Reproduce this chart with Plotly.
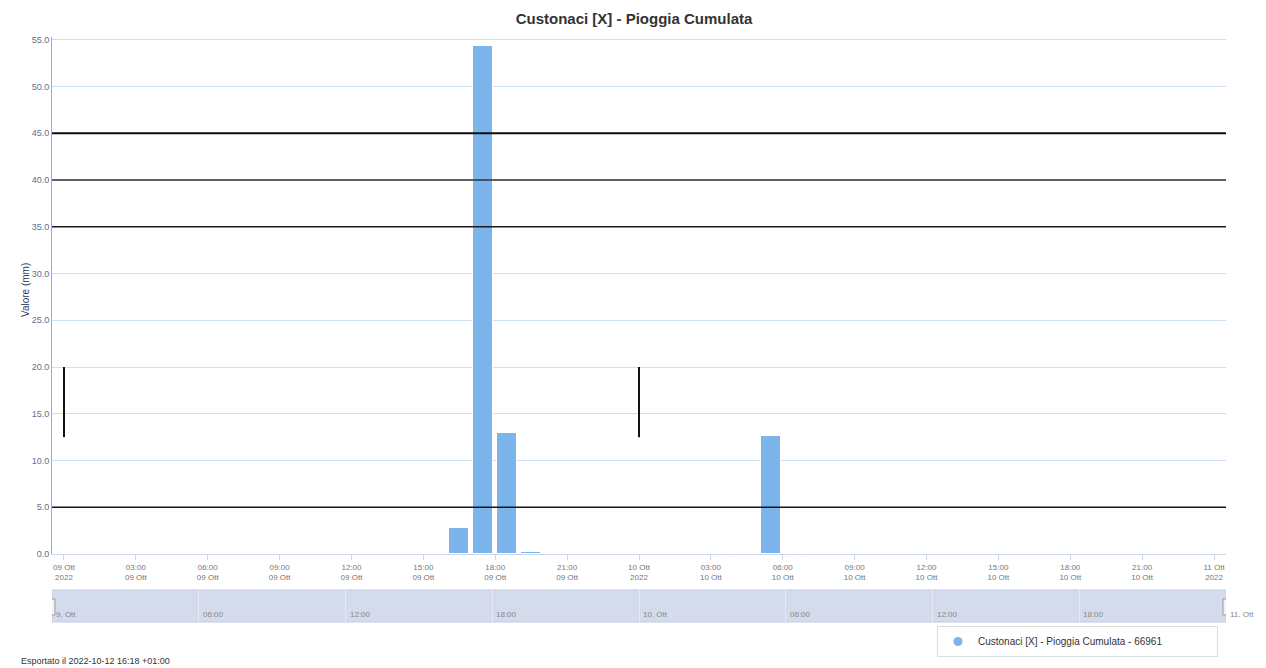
import plotly.graph_objects as go

# --- data ---
rain_time = ["2022-10-09 16:30", "2022-10-09 17:30", "2022-10-09 18:30", "2022-10-09 19:30",
             "2022-10-10 03:30", "2022-10-10 05:30", "2022-10-10 06:30"]
rain_mm = [2.8, 54.3, 12.9, 0.2, 0.1, 12.6, 0.1]

series_name = "Custonaci [X] - Pioggia Cumulata - 66961"
title_text = "Custonaci [X] - Pioggia Cumulata"
y_title = "Valore (mm)"
footer_text = "Esportato il 2022-10-12 16:18 +01:00"

x_ticks = ["2022-10-09 00:00", "2022-10-09 03:00", "2022-10-09 06:00", "2022-10-09 09:00",
           "2022-10-09 12:00", "2022-10-09 15:00", "2022-10-09 18:00", "2022-10-09 21:00",
           "2022-10-10 00:00", "2022-10-10 03:00", "2022-10-10 06:00", "2022-10-10 09:00",
           "2022-10-10 12:00", "2022-10-10 15:00", "2022-10-10 18:00", "2022-10-10 21:00",
           "2022-10-11 00:00"]
x_labels = ["09 Ott<br>2022", "03:00<br>09 Ott", "06:00<br>09 Ott", "09:00<br>09 Ott",
            "12:00<br>09 Ott", "15:00<br>09 Ott", "18:00<br>09 Ott", "21:00<br>09 Ott",
            "10 Ott<br>2022", "03:00<br>10 Ott", "06:00<br>10 Ott", "09:00<br>10 Ott",
            "12:00<br>10 Ott", "15:00<br>10 Ott", "18:00<br>10 Ott", "21:00<br>10 Ott",
            "11 Ott<br>2022"]

nav_ticks = ["2022-10-09 00:00", "2022-10-09 06:00", "2022-10-09 12:00", "2022-10-09 18:00",
             "2022-10-10 00:00", "2022-10-10 06:00", "2022-10-10 12:00", "2022-10-10 18:00",
             "2022-10-11 00:00"]
nav_labels = ["9. Ott", "06:00", "12:00", "18:00", "10. Ott", "06:00", "12:00", "18:00", "11. Ott"]

dark_levels = [45, 40, 35, 5]
dark_widths = [2, 1.5, 1.5, 1.5]
dark_colors = ["#0d0d0d", "#333333", "#1a1a1a", "#151515"]
marks_at = ["2022-10-09 00:00", "2022-10-10 00:00"]

main_range = ["2022-10-08 23:30", "2022-10-11 00:30"]

BAR = "#7cb5ec"
FONT = "Liberation Sans, Arial, sans-serif"
PAGE = 8  # the page body offsets the figure by 8px

fig = go.Figure()
# the dark horizontal rules sit behind the bars
for lvl, w, c in zip(dark_levels, dark_widths, dark_colors):
    fig.add_trace(go.Scatter(x=main_range, y=[lvl, lvl], mode="lines", line=dict(color=c, width=w),
                             showlegend=False, hoverinfo="skip"))
fig.add_trace(go.Bar(
    x=rain_time, y=rain_mm, width=2950000, marker=dict(color=BAR, line=dict(color="white", width=1)),
    showlegend=False, hoverinfo="x+y",
))
# legend entry with a round marker, as in the original
fig.add_trace(go.Scatter(
    x=[None], y=[None], mode="markers", name=series_name,
    marker=dict(color=BAR, size=9, symbol="circle"),
))

shapes = []
for t in marks_at:
    shapes.append(dict(type="line", xref="x", x0=t, x1=t, yref="y", y0=12.5, y1=20,
                       line=dict(color="#111", width=2), layer="above"))
# navigator
shapes.append(dict(type="rect", xref="x2", x0=nav_ticks[0], x1=nav_ticks[-1], yref="y2 domain", y0=0, y1=1,
                   fillcolor="#d3dbec", line=dict(color="#c2cbe0", width=1), layer="below"))
for t in (nav_ticks[0], nav_ticks[-1]):
    shapes.append(dict(type="rect", xref="x2", xsizemode="pixel", xanchor=t, x0=-3, x1=3,
                       yref="y2 domain", y0=0.22, y1=0.72,
                       line=dict(color="#999", width=1), fillcolor="#f2f2f2", layer="above"))

annotations = [
    dict(text=y_title, textangle=-90, xref="paper", yref="paper", x=-27 / 1174, y=0.5675,
         xanchor="center", yanchor="middle",
         showarrow=False, font=dict(size=10, color="#1f3c6b", family=FONT)),
    dict(text=footer_text, xref="paper", yref="paper", x=-33 / 1174, y=-46 / 585, xanchor="left",
         yanchor="bottom", showarrow=False, font=dict(size=9, color="#333", family=FONT)),
]
for t, lab in zip(nav_ticks, nav_labels):
    annotations.append(dict(text=lab, xref="x2", yref="y2 domain", x=t, y=0.02, xanchor="left",
                            yanchor="bottom", xshift=2, showarrow=False,
                            font=dict(size=8, color="#888", family=FONT)))

fig.update_layout(
    width=1266, height=668,
    margin=dict(l=52 - PAGE, r=1266 - 1226 + PAGE, t=37 - PAGE, b=668 - 622 + PAGE, autoexpand=False),
    paper_bgcolor="white", plot_bgcolor="white",
    font=dict(family=FONT, color="#666"),
    title=dict(text="<b>" + title_text + "</b>", x=(634 - PAGE) / 1266, xanchor="center",
               y=1 - (19 - PAGE) / 668, yanchor="middle",
               font=dict(size=15, color="#333", family=FONT)),
    bargap=0,
    xaxis=dict(
        domain=[0, 1], range=main_range, type="date", automargin=False,
        tickvals=x_ticks, ticktext=x_labels, tickfont=dict(size=8, color="#777"),
        ticks="outside", ticklen=5, tickcolor="#ccd6eb", showgrid=False,
        showline=True, linecolor="#ccd6eb", zeroline=False, mirror=False, anchor="y",
    ),
    yaxis=dict(
        domain=[68 / 585, 1], range=[0, 55.3], dtick=5, tick0=0, tickformat=".1f", automargin=False,
        tickfont=dict(size=9, color="#5d7290"), gridcolor="#cfe0f4", gridwidth=1,
        showline=True, linecolor="#7cb5ec", zeroline=False, ticks="", anchor="x",
    ),
    xaxis2=dict(
        domain=[0, 1], range=[nav_ticks[0], nav_ticks[-1]], type="date", anchor="y2", automargin=False,
        tickvals=nav_ticks, showticklabels=False, showgrid=True, gridcolor="#e4e9f4",
        showline=False, zeroline=False, ticks="",
    ),
    yaxis2=dict(domain=[0, 32 / 585], range=[0, 1], showgrid=False, showticklabels=False,
                zeroline=False, showline=False, anchor="x2", automargin=False),
    shapes=shapes,
    annotations=annotations,
    legend=dict(orientation="h", xref="container", yref="container",
                x=(937 - PAGE) / 1266, y=1 - (626 - PAGE) / 668,
                xanchor="left", yanchor="top", bgcolor="white", bordercolor="#dddddd", borderwidth=1,
                font=dict(size=10, color="#333", family=FONT), entrywidth=234, itemwidth=30),
)

fig.write_html("out.html")
